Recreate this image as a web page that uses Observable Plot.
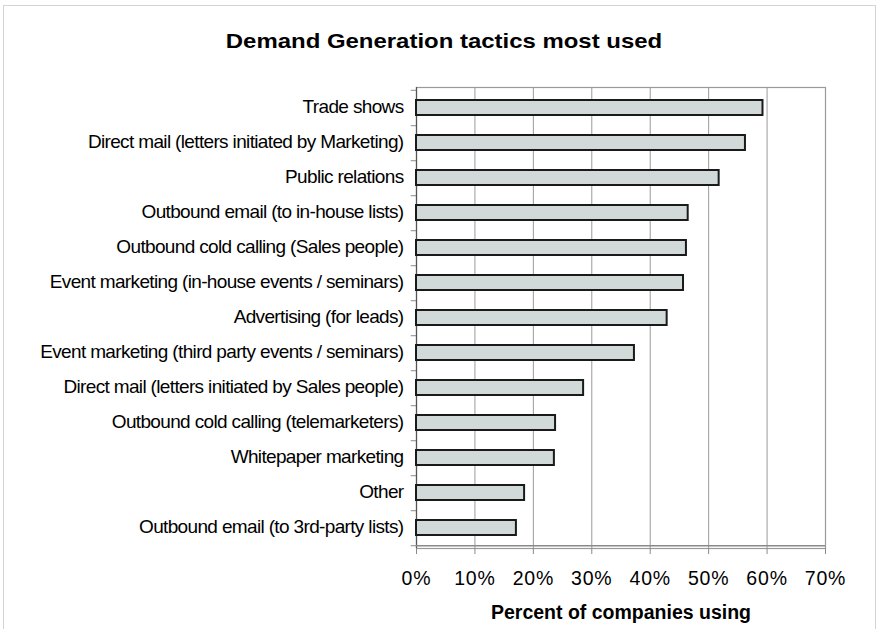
<!DOCTYPE html>
<html>
<head>
<meta charset="utf-8">
<script src="https://cdn.jsdelivr.net/npm/d3@7"></script>
<script src="https://cdn.jsdelivr.net/npm/@observablehq/plot@0.6"></script>
<style>
  html, body { margin: 0; padding: 0; background: #fff; overflow: hidden; }
  #wrap { position: relative; width: 879px; height: 629px; font-family: "Liberation Sans", Arial, sans-serif; }
  #frame { position: absolute; left: 3px; top: 5px; width: 873px; height: 640px; border: 1px solid #d4d4d4; box-sizing: border-box; }
  #title { position: absolute; left: 0; top: 0; width: 888px; height: 60px; text-align: center; line-height: 82px;
           font-weight: bold; font-size: 21px; letter-spacing: 0px; color: #000; transform: scaleX(1.14); transform-origin: 444px 0; }
  #chart { position: absolute; left: 0; top: 60px; }
  #chart svg { overflow: visible; }
  g[aria-label="x-axis tick label"] text { font-size: 19.5px; letter-spacing: 0.8px; }
  g[aria-label="y-axis tick label"] text { font-size: 19px; letter-spacing: -0.65px; }
</style>
</head>
<body>
<div id="wrap">
  <div id="frame"></div>
  <div id="title">Demand Generation tactics most used</div>
  <div id="chart"></div>
</div>
<script>
const categories = [
  "Trade shows",
  "Direct mail (letters initiated by Marketing)",
  "Public relations",
  "Outbound email (to in-house lists)",
  "Outbound cold calling (Sales people)",
  "Event marketing (in-house events / seminars)",
  "Advertising (for leads)",
  "Event marketing (third party events / seminars)",
  "Direct mail (letters initiated by Sales people)",
  "Outbound cold calling (telemarketers)",
  "Whitepaper marketing",
  "Other",
  "Outbound email (to 3rd-party lists)"
];
const values = [59.3, 56.3, 51.8, 46.5, 46.2, 45.7, 42.9, 37.3, 28.6, 23.8, 23.6, 18.5, 17.1];
const xTicks = [0, 10, 20, 30, 40, 50, 60, 70];
const xLabel = "Percent of companies using";

const data = categories.map((c, i) => ({category: c, value: values[i]}));

const W = 879, H = 569, mT = 27, mB = 81, mL = 416, mR = 54;
const step = (H - mT - mB) / categories.length;

const chart = Plot.plot({
  width: W,
  height: H,
  marginTop: mT,
  marginBottom: mB,
  marginLeft: mL,
  marginRight: mR,
  style: {fontFamily: "Liberation Sans, Arial, sans-serif", fontSize: "16px", color: "#000", background: "transparent"},
  x: {domain: [0, 70], ticks: xTicks, tickFormat: d => d + "%"},
  y: {domain: categories, paddingInner: 0.577, paddingOuter: 0.2885},
  marks: [
    Plot.gridX(xTicks, {stroke: "#9a9a9a", strokeOpacity: 1, strokeWidth: 1}),
    Plot.frame({stroke: "#9a9a9a", strokeWidth: 1.2}),
    Plot.axisX({ticks: xTicks, tickFormat: d => d + "%", tickSize: 6, tickPadding: 17, stroke: "#8a8a8a", fontSize: 19.5, label: null}),
    Plot.axisY({tickSize: 0, tickPadding: 13, fontSize: 19, label: null, dy: -1.5}),
    Plot.ruleY(categories, {y: d => d, x1: -0.9, x2: 0, dy: step / 2, stroke: "#8a8a8a"}),
    Plot.ruleY([categories[0]], {y: d => d, x1: -0.9, x2: 0, dy: -step / 2, stroke: "#8a8a8a"}),
    Plot.ruleX([0], {stroke: "#555", strokeWidth: 1.2}),
    Plot.ruleY([0], {y: () => categories[categories.length - 1], dy: step / 2, stroke: "#8a8a8a", strokeWidth: 1.5}),
    Plot.barX(data, {y: "category", x: "value", fill: "#d2d9d9", stroke: "#1a1a1a", strokeWidth: 2}),
    Plot.text([xLabel], {text: d => d, frameAnchor: "bottom", dy: 70, fontWeight: "bold", fontSize: 19.5, fill: "#000"})
  ]
});
document.getElementById("chart").appendChild(chart);
</script>
</body>
</html>
